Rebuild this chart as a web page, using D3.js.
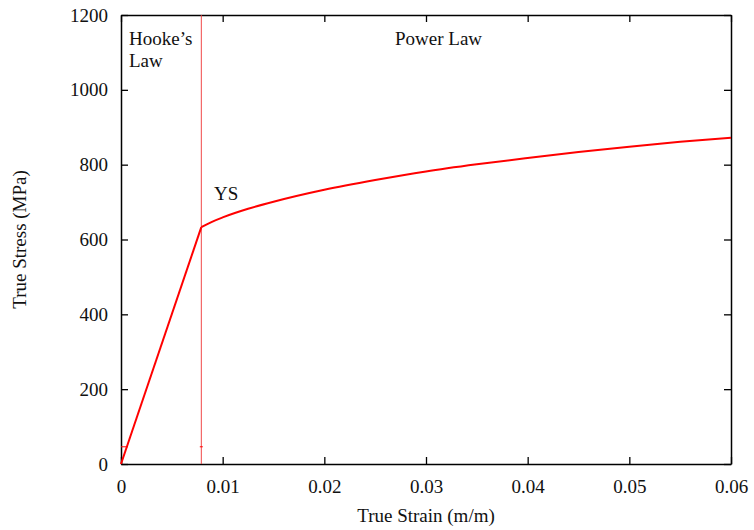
<!DOCTYPE html>
<html>
<head>
<meta charset="utf-8">
<script src="https://cdn.jsdelivr.net/npm/d3@7"></script>
</head>
<body>
<div id="chart"></div>
<script>
// values
var strainData = [0, 0.0079, 0.009, 0.01, 0.0125, 0.015, 0.02, 0.025, 0.03, 0.035, 0.04, 0.045, 0.05, 0.055, 0.06];
var stressData = [0, 633, 648, 659, 682, 701, 733, 759, 782, 801, 818, 834, 848, 861, 872];
var yieldStrain = 0.0079;
var markStress = 46;
var strainTicks = [0, 0.01, 0.02, 0.03, 0.04, 0.05, 0.06];
var stressTicks = [0, 200, 400, 600, 800, 1000, 1200];

(function() {
    var W = 754, H = 530;
    var m = {top: 15, right: 23, bottom: 66, left: 121};
    var fontSize = 19;
    var tickLen = 7;

    var svg = d3.select('#chart').append('svg')
        .attr('width', W)
        .attr('height', H)
        .style('position', 'absolute')
        .style('left', '0px')
        .style('top', '0px');

    var xs = d3.scaleLinear().domain([0, 0.06]).range([m.left, W - m.right]);
    var ys = d3.scaleLinear().domain([0, 1200]).range([H - m.bottom, m.top]);

    // frame + mirrored inner ticks
    var g = svg.append('g');
    var fmtX = function(d) { return d === 0 ? '0' : d3.format('.2f')(d); };

    g.append('g')
        .attr('transform', 'translate(0,' + ys(0) + ')')
        .call(d3.axisBottom(xs).tickValues(strainTicks).tickSizeInner(-tickLen).tickSizeOuter(0).tickPadding(16).tickFormat(fmtX));
    g.append('g')
        .attr('transform', 'translate(0,' + ys(1200) + ')')
        .call(d3.axisTop(xs).tickValues(strainTicks).tickSizeInner(-tickLen).tickSizeOuter(0).tickFormat(''));
    g.append('g')
        .attr('transform', 'translate(' + xs(0) + ',0)')
        .call(d3.axisLeft(ys).tickValues(stressTicks).tickSizeInner(-tickLen).tickSizeOuter(0).tickPadding(13).tickFormat(d3.format('d')));
    g.append('g')
        .attr('transform', 'translate(' + xs(0.06) + ',0)')
        .call(d3.axisRight(ys).tickValues(stressTicks).tickSizeInner(-tickLen).tickSizeOuter(0).tickFormat(''));

    g.selectAll('.domain').attr('stroke', '#000').attr('stroke-width', 1.5);
    g.selectAll('.tick line').attr('stroke', '#000').attr('stroke-width', 1.3);
    g.selectAll('.tick text')
        .attr('fill', '#111')
        .attr('font-size', fontSize)
        .attr('font-family', 'Liberation Serif');

    // hooke / power law divider
    svg.append('line')
        .attr('x1', xs(yieldStrain)).attr('x2', xs(yieldStrain))
        .attr('y1', ys(1200)).attr('y2', ys(0))
        .attr('stroke', '#e33').attr('stroke-width', 0.9);

    // small red marks
    svg.append('line')
        .attr('x1', xs(0)).attr('x2', xs(0) + 7)
        .attr('y1', ys(markStress)).attr('y2', ys(markStress))
        .attr('stroke', '#f00').attr('stroke-width', 1);
    svg.append('line')
        .attr('x1', xs(yieldStrain) - 1.5).attr('x2', xs(yieldStrain) + 1.5)
        .attr('y1', ys(markStress)).attr('y2', ys(markStress))
        .attr('stroke', '#f00').attr('stroke-width', 1);

    // stress-strain curve: straight elastic part, smooth plastic part
    var pts = strainData.map(function(d, i) { return [d, stressData[i]]; });
    var straight = d3.line()
        .x(function(d) { return xs(d[0]); })
        .y(function(d) { return ys(d[1]); });
    var smooth = d3.line()
        .x(function(d) { return xs(d[0]); })
        .y(function(d) { return ys(d[1]); })
        .curve(d3.curveMonotoneX);

    svg.append('path')
        .attr('d', straight(pts.slice(0, 2)))
        .attr('fill', 'none').attr('stroke', '#f00').attr('stroke-width', 2);
    svg.append('path')
        .attr('d', smooth(pts.slice(1)))
        .attr('fill', 'none').attr('stroke', '#f00').attr('stroke-width', 2);

    // annotations
    function addText(tx, ty, s) {
        return svg.append('text').attr('x', tx).attr('y', ty)
            .attr('font-family', 'Liberation Serif')
            .attr('font-size', fontSize).attr('fill', '#111').text(s);
    }
    addText(129, 45, 'Hooke\u2019s');
    addText(129, 67, 'Law');
    addText(395, 45, 'Power Law');
    addText(214, 200, 'YS');

    // axis titles
    addText((xs(0) + xs(0.06)) / 2, 522, 'True Strain (m/m)')
        .attr('text-anchor', 'middle');
    addText(0, 0, 'True Stress (MPa)')
        .attr('transform', 'translate(26,' + ((ys(0) + ys(1200)) / 2) + ') rotate(-90)')
        .attr('text-anchor', 'middle');
})();
</script>
</body>
</html>
